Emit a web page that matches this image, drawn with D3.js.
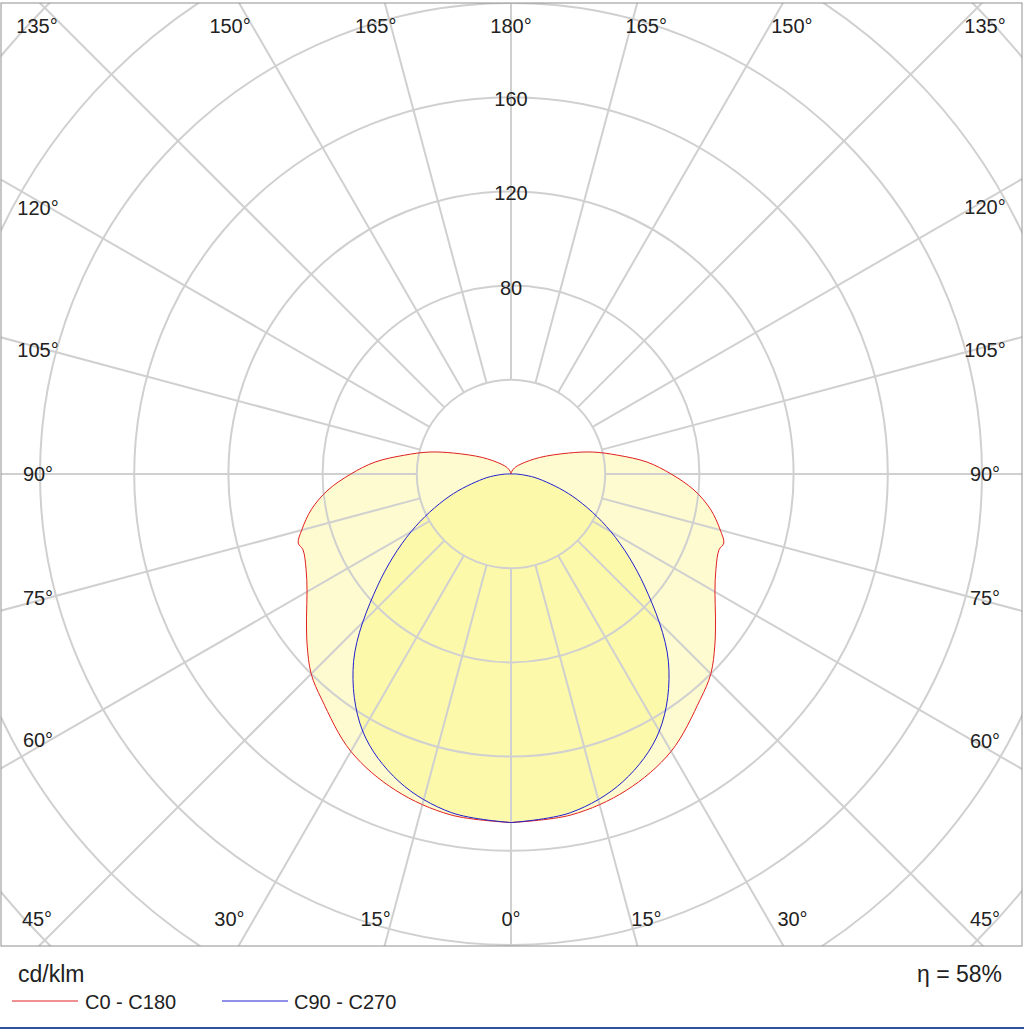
<!DOCTYPE html><html><head><meta charset="utf-8">
<script src="https://cdn.jsdelivr.net/npm/d3@7"></script>
<style>body{margin:0;background:#fff}text{font-family:Arial,"Liberation Sans",sans-serif}</style></head><body>
<svg id="c" width="1024" height="1030"></svg>
<script>
const gammaC0 = [0,10,20,30,40,45,50,55,60,65,70,72,75,80,85,90,95,100,105,110,120,135,150,165,180];
const valC0   = [148,147,143,136,125,120,113,106,100,96,94,95,92,86,78,68,58,46,36,26,14,6,3,1,0];
const gammaC90 = [0,10,20,30,40,50,60,70,80,85,90,180];
const valC90   = [148,146,139,126,104,74,49,28,12,6,2,0];
const ringVals = [40,80,120,160,200,240,280,320];
const ringLabels = [80,120,160];
const spokeAngles = d3.range(0,360,15);
const eta = "58%";

const svg = d3.select("#c");
const cx=511, cy=474, W={x0:1,y0:3,x1:1022,y1:946};
const r = d3.scaleLinear().domain([0,40]).range([0,94.2]);
svg.append("clipPath").attr("id","cl").append("rect").attr("x",W.x0).attr("y",W.y0).attr("width",W.x1-W.x0).attr("height",W.y1-W.y0);
const g = svg.append("g").attr("clip-path","url(#cl)");
const pt=(gam,v)=>{const a=gam*Math.PI/180;return [cx+r(v)*Math.sin(a), cy+r(v)*Math.cos(a)];};
function shape(gs,vs){const right=gs.map((gm,i)=>pt(gm,vs[i]));const left=gs.slice().reverse().map((gm,i)=>pt(-gm,vs[vs.length-1-i]));return right.concat(left);}
const line=d3.line().curve(d3.curveCatmullRomClosed);
g.append("path").attr("d",line(shape(gammaC0,valC0))).attr("fill","#fdfbcf");
g.append("path").attr("d",line(shape(gammaC90,valC90))).attr("fill","#fcf9ab");
ringVals.forEach(v=>g.append("circle").attr("cx",cx).attr("cy",cy).attr("r",r(v)).attr("fill","none").attr("stroke","#d0d0d0").attr("stroke-width",2));
spokeAngles.forEach(a=>{const p0=pt(a,40),p1=pt(a,500);g.append("line").attr("x1",p0[0]).attr("y1",p0[1]).attr("x2",p1[0]).attr("y2",p1[1]).attr("stroke","#d0d0d0").attr("stroke-width",2);});
g.append("path").attr("d",line(shape(gammaC0,valC0))).attr("fill","none").attr("stroke","#e02020").attr("stroke-width",1);
g.append("path").attr("d",line(shape(gammaC90,valC90))).attr("fill","none").attr("stroke","#2020d0").attr("stroke-width",1);
svg.append("rect").attr("x",W.x0).attr("y",W.y0).attr("width",W.x1-W.x0).attr("height",W.y1-W.y0).attr("fill","none").attr("stroke","#909090");
ringLabels.forEach(v=>svg.append("text").attr("x",cx).attr("y",cy-r(v)+9).attr("text-anchor","middle").attr("font-size",20).attr("fill","#222").text(v));
spokeAngles.forEach(a=>{
  const sa=(a>180?360-a:a);
  const rad=a*Math.PI/180;
  let dx=Math.sin(rad), dy=Math.cos(rad);
  if(Math.abs(dx)<1e-6)dx=0; if(Math.abs(dy)<1e-6)dy=0;
  let t=1e9; if(dx)t=Math.min(t,(dx>0?W.x1-cx:cx-W.x0)/Math.abs(dx)); if(dy)t=Math.min(t,(dy>0?W.y1-cy:cy-W.y0)/Math.abs(dy));
  let x=cx+t*dx,y=cy+t*dy,anchor="middle";
  const sh = x<cx-1?15:(x>cx+1?-15:0);
  if(a===45||a===315||a===135||a===225){y=(dy>0)?926:33;x=dx<0?37:985;}
  else if(y>=W.y1-1){y=926;x=x-sh*0.6;}
  else if(y<=W.y0+1){y=33;x=x-sh*0.6;}
  else {y=cy+(y-cy)*0.905+7;x=dx<0?38:985;}
  svg.append("text").attr("x",x).attr("y",y).attr("text-anchor",anchor).attr("font-size",20).attr("fill","#222").text(sa+"°");
});
svg.append("text").attr("x",18).attr("y",982).attr("font-size",23).attr("fill","#222").text("cd/klm");
svg.append("text").attr("x",1002).attr("y",982).attr("text-anchor","end").attr("font-size",23).attr("fill","#222").text("η = "+eta);
[[12,"#e02020","C0 - C180",85],[222,"#2020d0","C90 - C270",294]].forEach(([x,c,t,tx])=>{
  svg.append("line").attr("x1",x).attr("x2",x+66).attr("y1",1001).attr("y2",1001).attr("stroke",c);
  svg.append("text").attr("x",tx).attr("y",1009).attr("font-size",20).attr("fill","#222").text(t);
});
svg.append("line").attr("x1",0).attr("x2",1024).attr("y1",1028).attr("y2",1028).attr("stroke","#3050a0").attr("stroke-width",2);
</script></body></html>
